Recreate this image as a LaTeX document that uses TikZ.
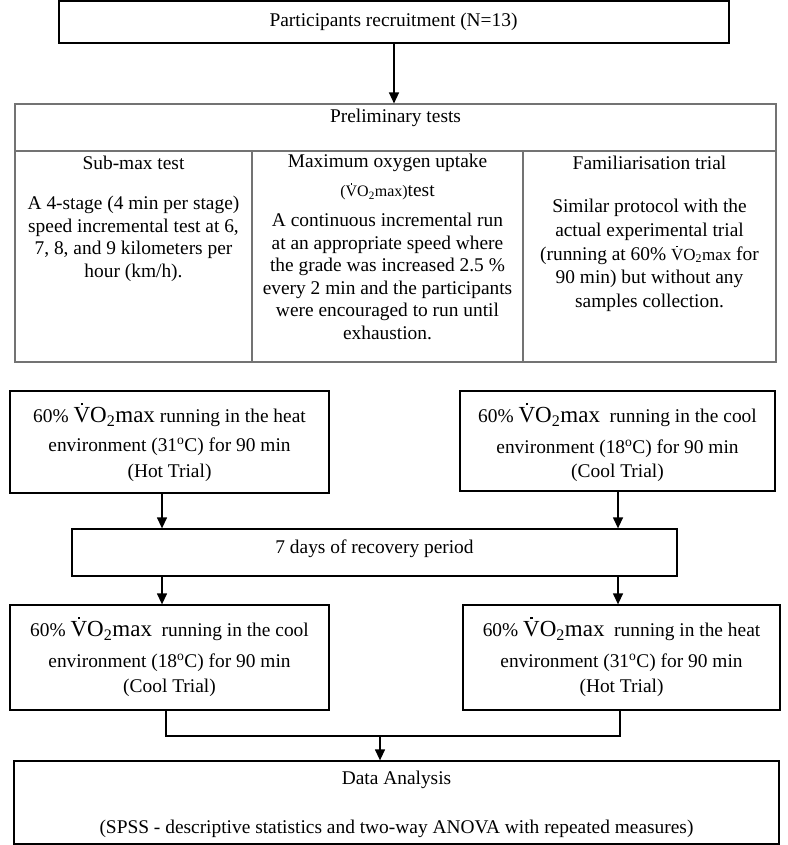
\documentclass[tikz,border=0pt]{standalone}
\usepackage{fontspec}
\setmainfont{Liberation Serif}
\usetikzlibrary{arrows.meta}
\newcommand{\Vdot}{\ooalign{V\cr\hidewidth\raisebox{0.75em}{\rule{0.09em}{0.09em}}\hidewidth\cr}}
\newcommand{\vomax}{\Vdot O\textsubscript{2}max}
\newcommand{\bigvo}{{\fontsize{23}{23}\selectfont\vomax}}
\begin{document}
\begin{tikzpicture}[x=1pt,y=-1pt,
  box/.style={draw=black, line width=1.3pt, inner sep=0pt},
  graybox/.style={draw=black!55, line width=1.1pt, inner sep=0pt},
  txt/.style={inner sep=0pt, font=\fontsize{19.4}{22.6}\selectfont, align=center},
  conn/.style={line width=1.3pt},
  arr/.style={line width=1.3pt, -{Triangle[length=11pt,width=10pt]}}]
\useasboundingbox (0,0) rectangle (787,845);

% boxes
\node[box, minimum width=670pt, minimum height=42pt] (recruit) at (394,22) {};
\node[graybox, minimum width=761pt, minimum height=258pt] (prelim) at (395.5,233) {};
\node[box, minimum width=319pt, minimum height=102pt] (hot1) at (169.5,442) {};
\node[box, minimum width=315pt, minimum height=100pt] (cool1) at (617.5,441) {};
\node[box, minimum width=605pt, minimum height=47pt] (recov) at (374.5,552.5) {};
\node[box, minimum width=319pt, minimum height=105pt] (cool2) at (169.5,657.5) {};
\node[box, minimum width=317pt, minimum height=105pt] (hot2) at (621.5,657.5) {};
\node[box, minimum width=765pt, minimum height=83pt] (data) at (396.5,802.5) {};

% helper coordinates
\coordinate (hl) at (0,151);
\coordinate (d1) at (252,0);
\coordinate (d2) at (523,0);
\coordinate (xl) at (162,0);
\coordinate (xr) at (618,0);
\coordinate (xl2) at (166,0);
\coordinate (xr2) at (620,0);
\coordinate (join) at (380,736);

% table lines
\draw[black!55, line width=1.1pt] (prelim.west |- hl) -- (prelim.east |- hl);
\draw[black!55, line width=1.1pt] (d1 |- hl) -- (d1 |- prelim.south);
\draw[black!55, line width=1.1pt] (d2 |- hl) -- (d2 |- prelim.south);

% connectors
\draw[arr] (recruit.south) -- (recruit.south |- prelim.north);
\draw[arr] (hot1.south -| xl) -- (recov.north -| xl);
\draw[arr] (cool1.south -| xr) -- (recov.north -| xr);
\draw[arr] (recov.south -| xl) -- (cool2.north -| xl);
\draw[arr] (recov.south -| xr) -- (hot2.north -| xr);
\draw[conn] (cool2.south -| xl2) |- (join) -| (hot2.south -| xr2);
\draw[arr] (join) -- (join |- data.north);

% texts
\node[txt] (t-recruit) at (393.5,22) {Participants recruitment (N=13)};
\node[txt] (t-pre) at (395.5,118) {Preliminary tests};

\node[txt] (t-sub) at (133.5,163) {Sub-max test};
\node[txt] (b-sub) at (133.5,239) {A 4-stage (4 min per stage)\\speed incremental test at 6,\\7, 8, and 9 kilometers per\\hour (km/h).};

\node[txt] (t-max) at (387.5,163) {Maximum oxygen uptake};
\node[txt] (t-max2) at (387.5,193) {{\fontsize{16}{16}\selectfont(\vomax)}test};
\node[txt] (b-max) at (387.5,276.5) {A continuous incremental run\\at an appropriate speed where\\the grade was increased 2.5 \%\\every 2 min and the participants\\were encouraged to run until\\exhaustion.};

\node[txt] (t-fam) at (649.5,163) {Familiarisation trial};
\node[txt, font=\fontsize{19.4}{23.7}\selectfont] (b-fam) at (649.5,255.5) {Similar protocol with the\\actual experimental trial\\(running at 60\% {\fontsize{17}{17}\selectfont\vomax} for\\90 min) but without any\\samples collection.};

\node[txt] (h1a) at (169.5,417) {60\% \bigvo\ running in the heat};
\node[txt] (h1b) at (169.5,447) {environment (31\textsuperscript{o}C) for 90 min};
\node[txt] (h1c) at (169.5,473) {(Hot Trial)};

\node[txt] (c1a) at (617.5,417) {60\% \bigvo\ \ running in the cool};
\node[txt] (c1b) at (617.5,449) {environment (18\textsuperscript{o}C) for 90 min};
\node[txt] (c1c) at (617.5,473) {(Cool Trial)};

\node[txt] (t-recov) at (374.5,549) {7 days of recovery period};

\node[txt] (c2a) at (169.5,631) {60\% \bigvo\ \ running in the cool};
\node[txt] (c2b) at (169.5,663) {environment (18\textsuperscript{o}C) for 90 min};
\node[txt] (c2c) at (169.5,688) {(Cool Trial)};

\node[txt] (h2a) at (621.5,631) {60\% \bigvo\ \ running in the heat};
\node[txt] (h2b) at (621.5,663) {environment (31\textsuperscript{o}C) for 90 min};
\node[txt] (h2c) at (621.5,688) {(Hot Trial)};

\node[txt] (t-data) at (396.5,780) {Data Analysis};
\node[txt] (t-spss) at (396.5,829) {(SPSS - descriptive statistics and two-way ANOVA with repeated measures)};
\end{tikzpicture}
\end{document}
